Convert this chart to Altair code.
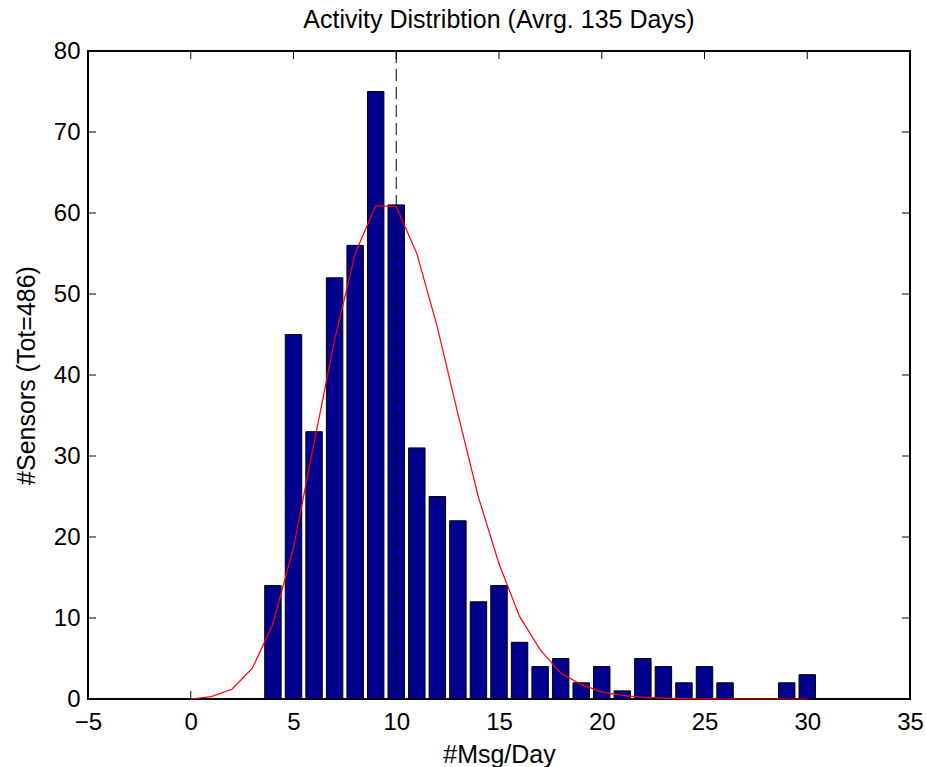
import altair as alt
import pandas as pd

# Histogram bars (#Msg/Day -> #Sensors)
bar_x = [4, 5, 6, 7, 8, 9, 10, 11, 12, 13, 14, 15, 16, 17, 18, 19, 20, 21, 22, 23, 24, 25, 26, 27, 28, 29, 30]
bar_y = [14, 45, 33, 52, 56, 75, 61, 31, 25, 22, 12, 14, 7, 4, 5, 2, 4, 1, 5, 4, 2, 4, 2, 0, 0, 2, 3]

# Fitted curve
fit_x = list(range(0, 31))
fit_y = [0, 0.3, 1.2, 3.8, 9.3, 18.7, 31.6, 44.3, 55.0, 60.9, 60.8, 55.0, 45.9, 35.2, 24.9, 16.7,
         10.2, 6.1, 3.2, 1.8, 0.85, 0.45, 0.2, 0.1, 0.05, 0.02, 0, 0, 0, 0, 0]

mean_x = [10]

x_ticks = [-5, 0, 5, 10, 15, 20, 25, 30, 35]
y_ticks = [0, 10, 20, 30, 40, 50, 60, 70, 80]

W, H = 822, 648
FONT = "Liberation Sans"
BAR_W = 0.8
LABEL_FS = 24
TITLE_FS = 25

bars_df = pd.DataFrame({"x": bar_x, "y": bar_y})
fit_df = pd.DataFrame({"x": fit_x, "y": fit_y})
mean_df = pd.DataFrame({"x": mean_x})
xt_df = pd.DataFrame({"v": x_ticks})
yt_df = pd.DataFrame({"v": y_ticks})

xscale = alt.Scale(domain=[-5, 35], nice=False, zero=False)
yscale = alt.Scale(domain=[0, 80], nice=False)

xaxis = alt.Axis(values=x_ticks, title="#Msg/Day", grid=False, domain=False, ticks=False,
                 labelFontSize=LABEL_FS, labelPadding=11, titleFontSize=TITLE_FS, titleFontWeight="normal",
                 titlePadding=8, labelColor="black", titleColor="black", labelFont=FONT, titleFont=FONT,
                 labelFlush=False)
yaxis = alt.Axis(values=y_ticks, title="#Sensors (Tot=486)", grid=False, domain=False, ticks=False,
                 labelFontSize=LABEL_FS, labelPadding=8, titleFontSize=TITLE_FS, titleFontWeight="normal",
                 titlePadding=14, labelColor="black", titleColor="black", labelFont=FONT, titleFont=FONT,
                 labelFlush=False)

tick_len = 8

xt_bottom = alt.Chart(xt_df).mark_rule(color="black", strokeWidth=1).encode(
    x=alt.X("v:Q", scale=xscale, axis=xaxis), y=alt.value(H), y2=alt.value(H - tick_len))
xt_top = alt.Chart(xt_df).mark_rule(color="black", strokeWidth=1).encode(
    x=alt.X("v:Q", scale=xscale, axis=xaxis), y=alt.value(0), y2=alt.value(tick_len))
yt_left = alt.Chart(yt_df).mark_rule(color="black", strokeWidth=1).encode(
    y=alt.Y("v:Q", scale=yscale, axis=yaxis), x=alt.value(0), x2=alt.value(tick_len))
yt_right = alt.Chart(yt_df).mark_rule(color="black", strokeWidth=1).encode(
    y=alt.Y("v:Q", scale=yscale, axis=yaxis), x=alt.value(W - tick_len), x2=alt.value(W))

bars = alt.Chart(bars_df).transform_calculate(
    x0=f"datum.x - {BAR_W / 2}", x1=f"datum.x + {BAR_W / 2}"
).mark_rect(color="#00008F", stroke="black", strokeWidth=1).encode(
    x=alt.X("x0:Q", scale=xscale, axis=xaxis),
    x2="x1:Q",
    y=alt.Y("y:Q", scale=yscale, axis=yaxis),
    y2=alt.datum(0),
)

vline = alt.Chart(mean_df).mark_rule(color="black", strokeWidth=1, strokeDash=[12, 6]).encode(
    x=alt.X("x:Q", scale=xscale, axis=xaxis), y=alt.value(0), y2=alt.value(H))

fit = alt.Chart(fit_df).mark_line(color="#FF0000", strokeWidth=1.2).encode(
    x=alt.X("x:Q", scale=xscale, axis=xaxis),
    y=alt.Y("y:Q", scale=yscale, axis=yaxis),
)

chart = alt.layer(xt_bottom, xt_top, yt_left, yt_right, bars, vline, fit).properties(
    width=W, height=H,
    background="white",
    title=alt.TitleParams("Activity Distribtion (Avrg. 135 Days)", fontSize=TITLE_FS, fontWeight="normal",
                          font=FONT, color="black", offset=6, anchor="middle"),
    autosize=alt.AutoSizeParams(type="none"),
    padding={"left": 88, "top": 51, "right": 16, "bottom": 68},
).configure_view(stroke="#000000", strokeWidth=2, strokeOpacity=1)

chart.save("out.html", embed_options={"renderer": "svg", "actions": False})
